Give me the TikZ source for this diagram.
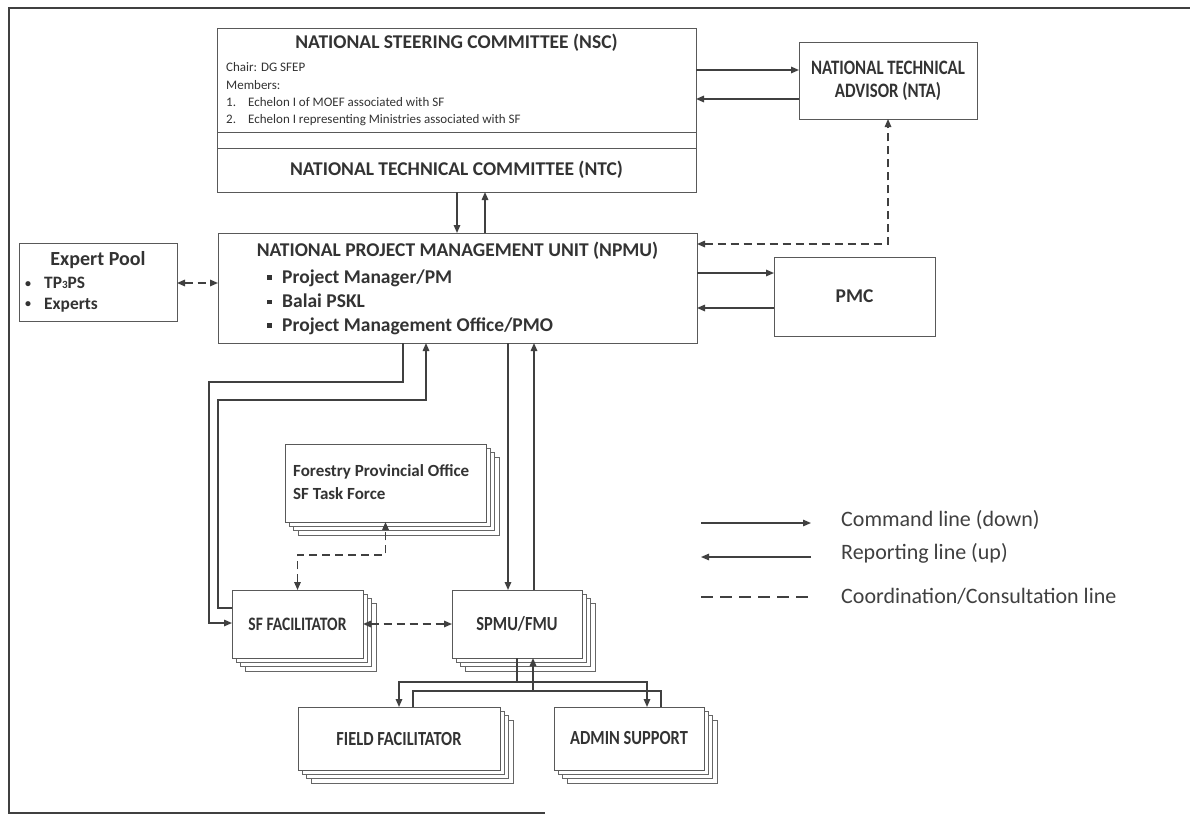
\documentclass[tikz,border=0pt]{standalone}
\usepackage{fontspec}
\setmainfont{Carlito}
\newfontfamily\cfont[FakeStretch=0.82]{Carlito}
\usetikzlibrary{arrows.meta,shadows}
\tikzset{
  box/.style={draw=black!65, line width=0.9pt, fill=white, inner sep=0pt, outer sep=0pt},
  shcopy/.style={shadow xshift=#1pt, shadow yshift=-#1pt, opacity=1, fill=white, draw=black!60, line width=0.7pt},
  stackbox/.style={box, copy shadow={shcopy=13}, copy shadow={shcopy=8.5}, copy shadow={shcopy=4}},
  ttl/.style={font=\fontsize{19.5}{22}\selectfont\bfseries, text=black!80, inner sep=0pt},
  sml/.style={font=\fontsize{13}{15}\selectfont, text=black!80, inner sep=0pt, anchor=west},
  bul/.style={font=\fontsize{19.5}{22}\selectfont\bfseries, text=black!80, inner sep=0pt, anchor=west},
  lbl/.style={font={\cfont\bfseries\fontsize{20}{23}\selectfont}, text=black!80},
  leg/.style={font=\fontsize{22}{26}\selectfont, text=black!75, inner sep=0pt, anchor=west},
  conn/.style={draw=black!75, line width=1.5pt},
  arr/.style={conn, -{Triangle[length=8pt,width=6.5pt]}},
  dsh/.style={conn, dash pattern=on 8pt off 5pt},
  darr/.style={dsh, {Triangle[length=8pt,width=6.5pt]}-{Triangle[length=8pt,width=6.5pt]}},
  frame/.style={draw=black!75, line width=1.8pt}
}
\newcommand{\sqbul}{\makebox[15pt][l]{\rule[3.5pt]{4.5pt}{4.5pt}}}
\newcommand{\rndbul}{\makebox[19pt][l]{\raisebox{3pt}{\rule{0pt}{0pt}}{\fontsize{12}{12}\selectfont\raisebox{1.5pt}{•}}}}
\begin{document}
\begin{tikzpicture}[x=1pt,y=-1pt]
\useasboundingbox (0,0) rectangle (1190,816);
\fill[white] (0,0) rectangle (1190,816);
% frame
\draw[frame] (1190,8) -- (9,8) -- (9,813) -- (545,813);

% NSC / NTC
\node[box, minimum width=479, minimum height=104] (nsc) at (456.5,80) {};
\node[box, minimum width=479, minimum height=44] (ntc) at (456.5,170) {};
\draw[box] (nsc.south west) -- (ntc.north west);
\draw[box] (nsc.south east) -- (ntc.north east);
\node[ttl] (nsct) at (456.5,43) {NATIONAL STEERING COMMITTEE (NSC)};
\node[sml] (chair) at (226,67) {Chair: DG SFEP};
\node[sml] (memb) at (226,85) {Members:};
\node[sml] (m1) at (226,102) {\makebox[22pt][l]{1.}Echelon I of MOEF associated with SF};
\node[sml] (m2) at (226,120) {\makebox[22pt][l]{2.}Echelon I representing  Ministries associated with SF};
\node[ttl] (ntct) at (456.5,170) {NATIONAL TECHNICAL COMMITTEE (NTC)};

% NTA
\node[box, minimum width=178, minimum height=77, align=center,
      font={\cfont\bfseries\fontsize{20.5}{23}\selectfont}, text=black!80] (nta) at (888,80.5)
      {NATIONAL TECHNICAL\\ADVISOR (NTA)};

% NPMU
\node[box, minimum width=479, minimum height=110] (npmu) at (457.5,288) {};
\node[ttl] (npmut) at (457.5,251) {NATIONAL PROJECT MANAGEMENT UNIT (NPMU)};
\node[bul] (pm) at (267,278) {\sqbul Project Manager/PM};
\node[bul] (balai) at (267,301) {\sqbul Balai PSKL};
\node[bul] (pmo) at (267,326) {\sqbul Project Management Office/PMO};

% Expert pool
\node[box, minimum width=158, minimum height=78] (expert) at (98,282) {};
\node[font=\fontsize{20}{22}\selectfont\bfseries, text=black!80, inner sep=0pt] (expt) at (98,260) {Expert Pool};
\node[font=\fontsize{17.4}{20}\selectfont\bfseries, text=black!80, inner sep=0pt, anchor=west] (tp) at (25,283) {\rndbul TP{\fontsize{11}{12}\selectfont 3}PS};
\node[font=\fontsize{17.4}{20}\selectfont\bfseries, text=black!80, inner sep=0pt, anchor=west] (exps) at (25,305) {\rndbul Experts};

% PMC
\node[box, ttl, minimum width=161, minimum height=79] (pmc) at (854.5,296.5) {PMC};

% lower stacked boxes
\node[stackbox, minimum width=201, minimum height=78] (fbox) at (385.5,483) {};
\node[font=\fontsize{17}{19}\selectfont\bfseries, text=black!80, anchor=west, inner sep=0pt] (fpo1) at (293,472) {Forestry Provincial Office};
\node[font=\fontsize{17}{19}\selectfont\bfseries, text=black!80, anchor=west, inner sep=0pt] (fpo2) at (293,494) {SF Task Force};

\node[stackbox, lbl, font={\cfont\bfseries\fontsize{19}{23}\selectfont}, minimum width=131, minimum height=68] (sf) at (297.5,624) {SF FACILITATOR};
\node[stackbox, lbl, minimum width=130, minimum height=68] (spmu) at (517,624) {SPMU/FMU};
\node[stackbox, lbl, minimum width=202, minimum height=63] (ff) at (399,738.5) {FIELD FACILITATOR};
\node[stackbox, lbl, minimum width=150, minimum height=63] (adm) at (629,738.5) {ADMIN SUPPORT};

% connectors top
\draw[arr] (nsc.east |- 0,70) -- (nta.west |- 0,70);
\draw[arr] (nta.west |- 0,99) -- (nsc.east |- 0,99);
\draw[arr] (ntc.south -| 457,0) -- (npmu.north -| 457,0);
\draw[arr] (npmu.north -| 485,0) -- (ntc.south -| 485,0);
\draw[arr] (npmu.east |- 0,273) -- (pmc.west |- 0,273);
\draw[arr] (pmc.west |- 0,308) -- (npmu.east |- 0,308);
\draw[darr] (npmu.east |- 0,244) -| (nta.south);
\draw[darr] (expert.east |- 0,283) -- (npmu.west |- 0,283);

% NPMU <-> SF facilitator
\coordinate (b1) at (209,382);
\coordinate (b2) at (218,400);
\draw[arr] (npmu.south -| 403,0) |- (b1) |- (sf.west |- 0,623);
\draw[arr] (sf.west |- 0,608) -| (b2) -| (npmu.south -| 426,0);

% NPMU <-> SPMU
\draw[arr] (npmu.south -| 508,0) -- (spmu.north -| 508,0);
\draw[arr] (spmu.north -| 534,0) -- (npmu.south -| 534,0);

% Forestry <-> SF
\draw[darr] (sf.north) |- (fbox.south |- 0,555) -- (fbox.south);
% SF <-> SPMU
\draw[darr] (sf.east) -- (spmu.west);

% SPMU <-> field / admin
\coordinate (cj) at (517,682);
\coordinate (rj) at (533,691);
\draw[arr] (spmu.south -| 517,0) |- (ff.north |- cj) -- (ff.north);
\draw[arr] (cj) -| (adm.north -| 647,0);
\draw[arr] (ff.north -| 413,0) |- (rj) -- (spmu.south -| 533,0);
\draw[conn] (adm.north -| 661,0) |- (rj);

% legend
\node[leg] (l1) at (841,520) {Command line (down)};
\node[leg] (l2) at (841,553) {Reporting line (up)};
\node[leg] (l3) at (841,596) {Coordination/Consultation line};
\coordinate (l1a) at (701,523); \coordinate (l1b) at (811,523);
\coordinate (l2a) at (701,557); \coordinate (l2b) at (811,557);
\coordinate (l3a) at (701,597); \coordinate (l3b) at (811,597);
\draw[arr, line width=1.3pt] (l1a) -- (l1b);
\draw[arr, line width=1.3pt] (l2b) -- (l2a);
\draw[dsh, line width=1.3pt, dash pattern=on 12pt off 7pt] (l3a) -- (l3b);
\end{tikzpicture}
\end{document}
